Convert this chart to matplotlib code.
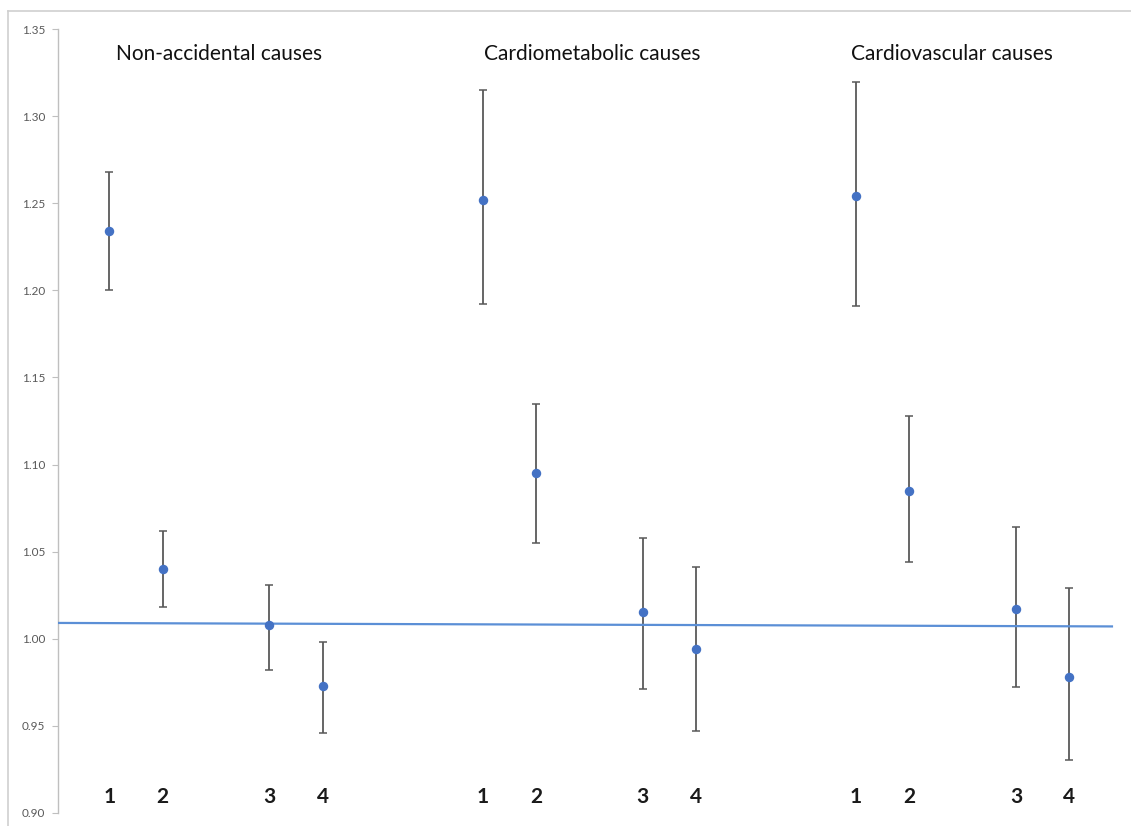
import matplotlib
matplotlib.use('Agg')
import matplotlib.pyplot as plt
from matplotlib.lines import Line2D
from matplotlib.ticker import FormatStrFormatter

# data
groups = ['Non-accidental causes', 'Cardiometabolic causes', 'Cardiovascular causes']
labels = ['1', '2', '3', '4']
xpos = [[1, 2, 4, 5], [8, 9, 11, 12], [15, 16, 18, 19]]
est = [[1.234, 1.040, 1.008, 0.973],
       [1.252, 1.095, 1.015, 0.994],
       [1.254, 1.085, 1.017, 0.978]]
upper = [[1.268, 1.062, 1.031, 0.998],
         [1.315, 1.135, 1.058, 1.041],
         [1.320, 1.128, 1.064, 1.029]]
lower = [[1.200, 1.018, 0.982, 0.946],
         [1.192, 1.055, 0.971, 0.947],
         [1.191, 1.044, 0.972, 0.930]]
ref_x = [0.04, 19.8]
ref_y = [1.009, 1.007]

title_shift = [0.05, 0.05, -0.2]

fig = plt.figure(figsize=(11.31, 8.26), dpi=100)
ax = fig.add_axes([58/1131, 1 - 812.7/826, 1 - 58/1131, (812.7 - 29.3)/826])

for g in range(3):
    x = xpos[g]
    y = est[g]
    yerr = [[y[i] - lower[g][i] for i in range(4)], [upper[g][i] - y[i] for i in range(4)]]
    ax.errorbar(x, y, yerr=yerr, fmt='none', ecolor='#595959', elinewidth=1.3,
                capsize=3, capthick=1.1, zorder=2)
    ax.plot(x, y, 'o', color='#4472c4', markersize=5.8, zorder=4)
    for i in range(4):
        ax.text(x[i], 0.9092, labels[i], ha='center', va='center', fontsize=15,
                fontweight='bold', family='Lato', color='#1a1a1a')
    ax.text((x[0] + x[-1]) / 2 + title_shift[g], 1.336, groups[g], ha='center', va='center',
            fontsize=15, family='Lato', color='#111111')

ax.plot(ref_x, ref_y, color='#5b8fd6', linewidth=1.6, zorder=3)

ax.set_xlim(0.038, 20.157)
ax.set_ylim(0.90, 1.35)
ax.set_yticks([0.90, 0.95, 1.00, 1.05, 1.10, 1.15, 1.20, 1.25, 1.30, 1.35])
ax.yaxis.set_major_formatter(FormatStrFormatter('%.2f'))
ax.set_xticks([])
for s in ['top', 'right', 'bottom']:
    ax.spines[s].set_visible(False)
ax.spines['left'].set_color('#bfbfbf')
ax.spines['left'].set_linewidth(1.0)
ax.tick_params(axis='y', direction='out', length=4.5, width=0.8, color='#bfbfbf',
               labelcolor='#595959', labelsize=8.5, pad=4.5)
for t in ax.get_yticklabels():
    t.set_family('Lato')

# outer frame of the chart (cut off at right and bottom)
fig.add_artist(Line2D([8/1131, 1], [1 - 11/826, 1 - 11/826], color='#cfcfcf', linewidth=1.2,
                      transform=fig.transFigure))
fig.add_artist(Line2D([8/1131, 8/1131], [0, 1 - 11/826], color='#cfcfcf', linewidth=1.2,
                      transform=fig.transFigure))

fig.savefig('out.png', dpi=100)
